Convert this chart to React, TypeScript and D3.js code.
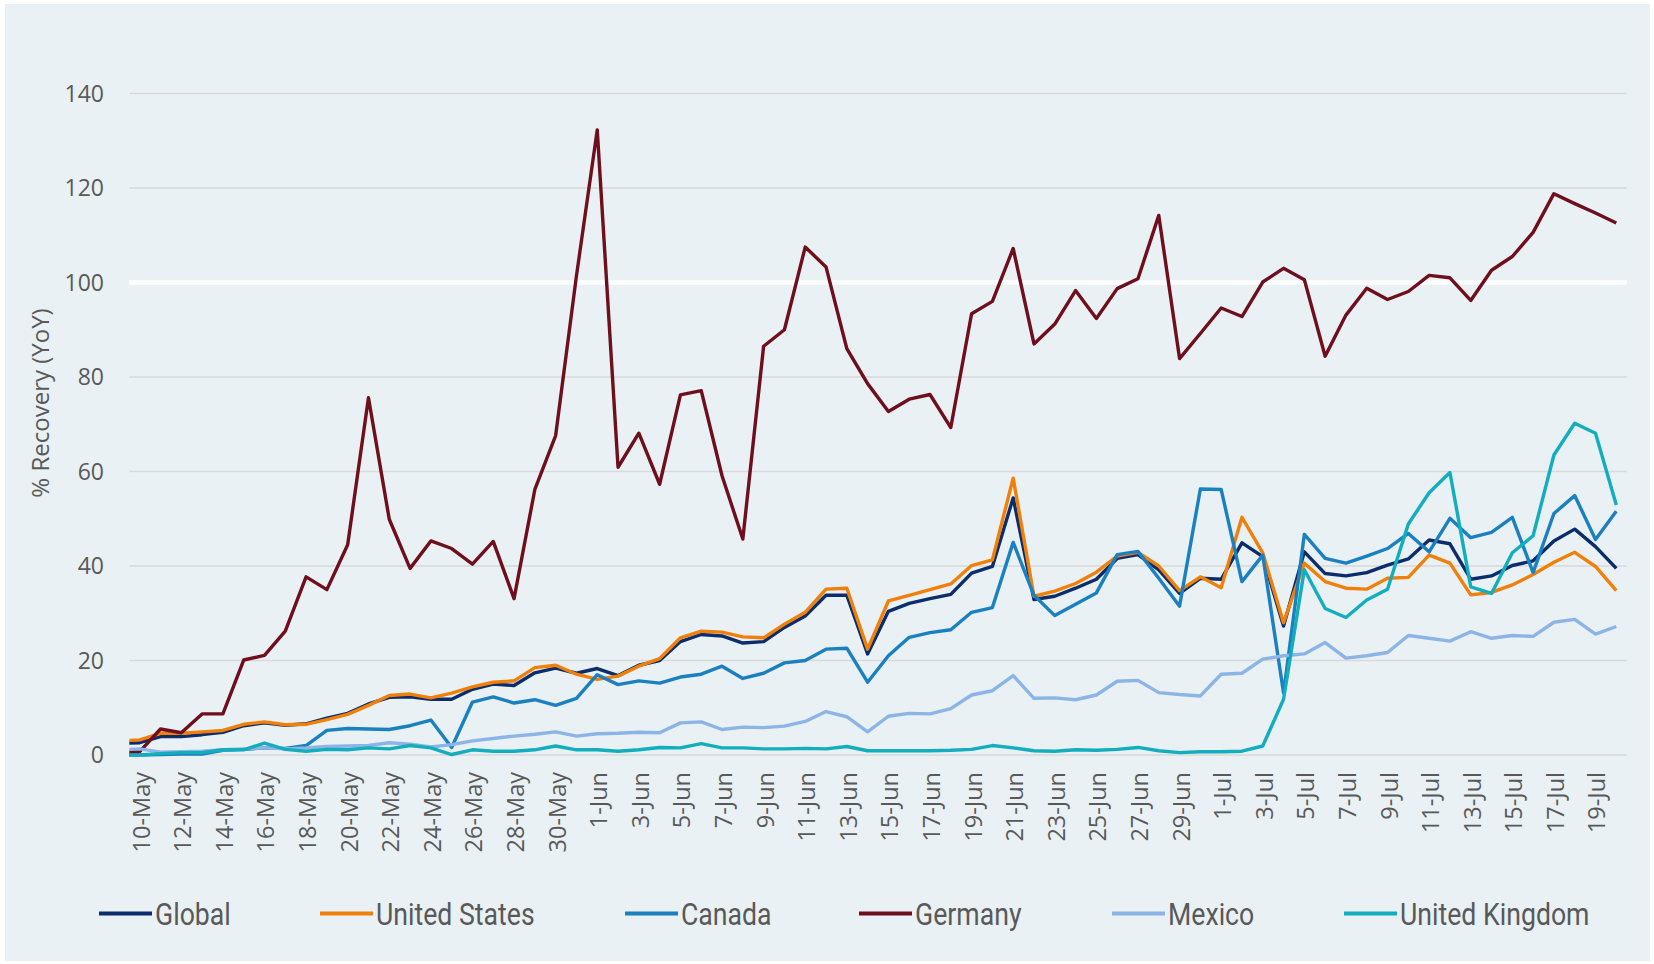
import React from "react";
import * as d3 from "d3";

// categories: one label per day, 9-May is only partly visible at the left edge
const dayFormat = d3.timeFormat("%-d-%b");
const dates: string[] = d3.timeDay
  .range(new Date(2020, 4, 9), new Date(2020, 6, 21))
  .map((d) => dayFormat(d));
const tickLabels = dates.filter((_, i) => i % 2 === 1); // 10-May, 12-May ... 19-Jul
const yTicks = [0, 20, 40, 60, 80, 100, 120, 140];

// series values, 9-May .. 20-Jul
const global = [
  2.5, 2.6, 3.9, 3.9, 4.3, 4.8, 6.2, 6.8, 6.3, 6.6, 7.8, 8.8, 10.8, 12.2, 12.3, 11.8, 11.8, 13.9, 15.0,
  14.7, 17.4, 18.4, 17.3, 18.3, 16.8, 19.0, 20.0, 24.0, 25.5, 25.2, 23.7, 24.0, 27.0, 29.4, 33.8, 33.8,
  21.4, 30.4, 32.1, 33.1, 34.0, 38.5, 39.9, 54.4, 32.9, 33.6, 35.3, 37.2, 41.6, 42.4, 39.2, 34.2, 37.4,
  37.2, 44.9, 42.0, 27.3, 43.0, 38.4, 37.9, 38.6, 40.2, 41.5, 45.5, 44.7, 37.2, 37.9, 40.1, 41.1, 45.3,
  47.8, 44.1, 39.5,
];
const unitedStates = [
  3.0, 3.2, 4.6, 4.6, 4.9, 5.2, 6.5, 7.0, 6.4, 6.5, 7.5, 8.6, 10.5, 12.6, 12.9, 12.1, 13.1, 14.4, 15.4,
  15.7, 18.5, 19.0, 17.1, 16.0, 16.7, 18.8, 20.4, 24.8, 26.2, 26.0, 25.0, 24.8, 27.7, 30.2, 35.1, 35.3,
  22.4, 32.6, 33.8, 35.0, 36.2, 40.1, 41.3, 58.6, 33.6, 34.7, 36.3, 38.7, 42.1, 42.9, 40.0, 34.8, 37.7,
  35.4, 50.3, 42.8, 28.0, 40.6, 36.7, 35.3, 35.1, 37.4, 37.6, 42.3, 40.6, 33.9, 34.4, 36.0, 38.2, 40.8,
  42.9, 39.9, 34.8,
];
const canada = [
  0.0, 0.0, 0.1, 0.2, 0.2, 1.0, 1.2, 1.5, 1.4, 2.0, 5.2, 5.6, 5.5, 5.4, 6.2, 7.4, 1.6, 11.2, 12.3, 11.0,
  11.7, 10.5, 12.0, 17.0, 14.9, 15.7, 15.2, 16.5, 17.1, 18.8, 16.2, 17.3, 19.5, 20.0, 22.4, 22.6, 15.4,
  21.0, 24.9, 25.9, 26.5, 30.2, 31.2, 45.0, 33.8, 29.5, 31.9, 34.3, 42.4, 43.1, 37.4, 31.5, 56.3, 56.2,
  36.7, 42.3, 13.1, 46.7, 41.6, 40.6, 42.1, 43.7, 46.9, 43.0, 50.1, 46.0, 47.1, 50.3, 38.6, 51.1, 54.9,
  45.6, 51.6,
];
const germany = [
  0.5, 0.7, 5.5, 4.7, 8.7, 8.7, 20.1, 21.1, 26.2, 37.7, 35.0, 44.5, 75.6, 49.9, 39.5, 45.3, 43.7, 40.4,
  45.2, 33.1, 56.2, 67.6, 101.4, 132.3, 60.9, 68.1, 57.3, 76.2, 77.1, 59.1, 45.7, 86.5, 90.0, 107.5,
  103.3, 86.0, 78.6, 72.7, 75.3, 76.3, 69.3, 93.4, 96.0, 107.2, 87.0, 91.2, 98.3, 92.4, 98.7, 100.8,
  114.2, 83.9, 89.2, 94.6, 92.8, 100.1, 103.0, 100.6, 84.4, 93.1, 98.8, 96.4, 98.1, 101.5, 101.0, 96.2,
  102.6, 105.5, 110.6, 118.8, 116.7, 114.7, 112.6,
];
const mexico = [
  1.1, 1.3, 0.6, 0.7, 0.8, 1.1, 1.3, 1.5, 1.3, 1.5, 1.8, 1.9, 2.0, 2.6, 2.3, 1.7, 2.2, 3.0, 3.5, 4.0, 4.4,
  4.9, 4.0, 4.5, 4.6, 4.8, 4.7, 6.8, 7.0, 5.4, 5.9, 5.8, 6.1, 7.1, 9.2, 8.1, 4.9, 8.2, 8.8, 8.7, 9.8,
  12.7, 13.6, 16.8, 12.0, 12.1, 11.7, 12.7, 15.6, 15.8, 13.2, 12.8, 12.5, 17.1, 17.3, 20.3, 21.0, 21.4,
  23.8, 20.5, 21.0, 21.7, 25.3, 24.7, 24.1, 26.1, 24.7, 25.3, 25.1, 28.1, 28.7, 25.6, 27.2,
];
const unitedKingdom = [
  0.0, 0.0, 0.3, 0.5, 0.5, 1.1, 1.1, 2.5, 1.2, 0.8, 1.2, 1.1, 1.5, 1.3, 2.0, 1.5, 0.1, 1.1, 0.8, 0.8,
  1.1, 1.9, 1.1, 1.1, 0.8, 1.1, 1.6, 1.5, 2.4, 1.5, 1.5, 1.3, 1.3, 1.4, 1.3, 1.8, 0.9, 0.9, 0.9, 0.9,
  1.0, 1.2, 2.0, 1.5, 0.9, 0.8, 1.1, 1.0, 1.2, 1.6, 0.9, 0.5, 0.7, 0.7, 0.8, 1.9, 11.8, 39.2, 31.0,
  29.1, 32.8, 35.1, 48.9, 55.5, 59.8, 35.6, 34.2, 42.8, 46.4, 63.5, 70.2, 68.1, 52.9,
];

const seriesNames = ["Global", "United States", "Canada", "Germany", "Mexico", "United Kingdom"];
const seriesValues = [global, unitedStates, canada, germany, mexico, unitedKingdom];
const seriesColors = ["#0B2D6B", "#F0800A", "#1A80C0", "#6F0F1E", "#8CB4E6", "#13AEBD"];

export default function App() {
  const width = 1654;
  const height = 964;
  const plot = { left: 129.3, right: 1626.7, top: 93.5, bottom: 755 };

  // points sit in the middle of each day's slot
  const x = d3.scaleLinear().domain([0.5, dates.length - 0.5]).range([plot.left, plot.right]);
  const y = d3.scaleLinear().domain([0, 140]).range([plot.bottom, plot.top]);

  const line = d3
    .line<number>()
    .x((_, i) => x(i))
    .y((d) => y(d));

  const tickFont = "'Open Sans', 'Noto Sans', sans-serif";
  const legendFont = "'Roboto', sans-serif";
  const grey = "#595959";

  // legend sample line start positions
  const legendX = [99, 320, 625, 859, 1112, 1344];

  return (
    <svg width={width} height={height} style={{ position: "absolute", left: 0, top: 0 }}>
      <rect x={0} y={0} width={width} height={height} fill="#ffffff" />
      <rect x={5} y={4} width={1645} height={957} fill="#E9F1F4" />

      <defs>
        <clipPath id="plotClip">
          <rect x={plot.left} y={0} width={plot.right - plot.left} height={plot.bottom + 10} />
        </clipPath>
      </defs>

      {/* grid */}
      {yTicks.map((t) => (
        <line
          key={"g" + t}
          x1={plot.left}
          x2={plot.right}
          y1={y(t)}
          y2={y(t)}
          stroke={t === 100 ? "#ffffff" : "#D9D9D9"}
          strokeWidth={t === 100 ? 4.5 : 1.5}
        />
      ))}

      {/* y labels */}
      {yTicks.map((t) => (
        <text
          key={"y" + t}
          x={104}
          y={y(t)}
          dy="0.36em"
          textAnchor="end"
          fontFamily={tickFont}
          fontSize={23}
          fill={grey}
        >
          {t}
        </text>
      ))}

      <text
        transform="translate(40,403) rotate(-90)"
        textAnchor="middle"
        dy="0.36em"
        fontFamily={tickFont}
        fontSize={24}
        fill={grey}
      >
        % Recovery (YoY)
      </text>

      {/* x labels */}
      {dates.map((d, i) =>
        tickLabels.includes(d) ? (
          <text
            key={"x" + d}
            transform={`translate(${x(i) + 1.5},772) rotate(-90)`}
            textAnchor="end"
            dy="0.36em"
            fontFamily={tickFont}
            fontSize={23.5}
            fill={grey}
          >
            {d}
          </text>
        ) : null
      )}

      {/* series */}
      <g clipPath="url(#plotClip)">
        {seriesValues.map((vals, k) => (
          <path
            key={seriesNames[k]}
            d={line(vals) || ""}
            fill="none"
            stroke={seriesColors[k]}
            strokeWidth={3.4}
            strokeLinejoin="round"
          />
        ))}
      </g>

      {/* legend */}
      {seriesNames.map((name, k) => (
        <g key={"l" + name} transform={`translate(${legendX[k]},913.5)`}>
          <line x1={0} x2={53} y1={0} y2={0} stroke={seriesColors[k]} strokeWidth={4} />
          <text
            transform="translate(56,0) scale(0.86,1)"
            dy="0.36em"
            fontFamily={legendFont}
            fontSize={31}
            fill={grey}
          >
            {name}
          </text>
        </g>
      ))}
    </svg>
  );
}
